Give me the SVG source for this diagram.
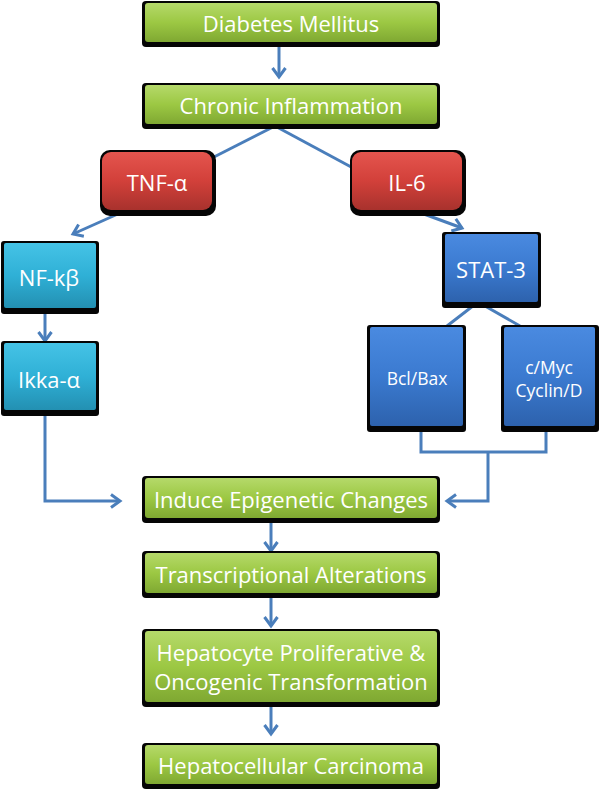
<svg xmlns="http://www.w3.org/2000/svg" width="600" height="791" viewBox="0 0 600 791">
<defs>
<linearGradient id="gGreen" x1="0" y1="0" x2="0" y2="1">
<stop offset="0" stop-color="#b5d96a"/><stop offset="0.5" stop-color="#9cc843"/><stop offset="1" stop-color="#7fa832"/>
</linearGradient>
<linearGradient id="gRed" x1="0" y1="0" x2="0" y2="1">
<stop offset="0" stop-color="#e4554e"/><stop offset="0.5" stop-color="#d2403a"/><stop offset="1" stop-color="#a8322d"/>
</linearGradient>
<linearGradient id="gBlue" x1="0" y1="0" x2="0" y2="1">
<stop offset="0" stop-color="#4a8ae0"/><stop offset="0.5" stop-color="#3b7ad0"/><stop offset="1" stop-color="#2d62ad"/>
</linearGradient>
<linearGradient id="gCyan" x1="0" y1="0" x2="0" y2="1">
<stop offset="0" stop-color="#45c3e6"/><stop offset="0.5" stop-color="#2fb0d6"/><stop offset="1" stop-color="#2390b2"/>
</linearGradient>
<marker id="arr" markerWidth="16" markerHeight="16" viewBox="0 0 16 16" refX="13" refY="8" orient="auto" markerUnits="userSpaceOnUse">
<path d="M4,1.5 L13,8 L4,14.5" fill="none" stroke="#4a7ebb" stroke-width="3"/>
</marker>
<style>
.sh{fill:#050505}
.g{fill:url(#gGreen)}
.r{fill:url(#gRed)}
.b{fill:url(#gBlue)}
.c{fill:url(#gCyan)}
.t{font-family:"Open Sans","Liberation Sans",sans-serif;fill:#ffffff;text-anchor:middle;dominant-baseline:central}
.l{fill:none;stroke:#4a7ebb;stroke-width:3}
</style>
</defs>

<g id="connectors">
<line class="l" x1="279" y1="46" x2="279" y2="77" marker-end="url(#arr)"/>
<line class="l" x1="275" y1="126" x2="212" y2="158"/>
<line class="l" x1="275" y1="126" x2="353" y2="168"/>
<line class="l" x1="129" y1="209" x2="73" y2="234" marker-end="url(#arr)"/>
<line class="l" x1="45" y1="312" x2="45" y2="341" marker-end="url(#arr)"/>
<polyline class="l" points="45,412 45,501 120,501" marker-end="url(#arr)"/>
<line class="l" x1="413" y1="210" x2="462" y2="228" marker-end="url(#arr)"/>
<polyline class="l" points="447,326 478,302 520,326"/>
<polyline class="l" points="421,428 421,452 546,452 546,428"/>
<polyline class="l" points="488,452 488,501 447,501" marker-end="url(#arr)"/>
<line class="l" x1="271" y1="521" x2="271" y2="551" marker-end="url(#arr)"/>
<line class="l" x1="271" y1="596" x2="271" y2="626" marker-end="url(#arr)"/>
<line class="l" x1="271" y1="705" x2="271" y2="734" marker-end="url(#arr)"/>
</g>

<g id="dm">
<rect class="sh" x="142" y="1" width="298" height="46" rx="4"/>
<rect class="g" x="145" y="3" width="292" height="39" rx="3"/>
<text class="t" x="291" y="23" font-size="22">Diabetes Mellitus</text>
</g>
<g id="ci">
<rect class="sh" x="142" y="83" width="298" height="46" rx="4"/>
<rect class="g" x="145" y="85" width="292" height="39" rx="3"/>
<text class="t" x="291" y="105" font-size="22">Chronic Inflammation</text>
</g>
<g id="tnf">
<rect class="sh" x="100" y="150" width="116" height="66" rx="10"/>
<rect class="r" x="102" y="152" width="110" height="58" rx="9"/>
<text class="t" x="157" y="182" font-size="22">TNF-α</text>
</g>
<g id="il6">
<rect class="sh" x="350" y="150" width="116" height="66" rx="10"/>
<rect class="r" x="352" y="152" width="110" height="58" rx="9"/>
<text class="t" x="407" y="182" font-size="22">IL-6</text>
</g>
<g id="nfkb">
<rect class="sh" x="1" y="241" width="98" height="73" rx="3"/>
<rect class="c" x="4" y="243" width="92" height="65" rx="2"/>
<text class="t" x="49" y="277" font-size="22">NF-kβ</text>
</g>
<g id="ikka">
<rect class="sh" x="1" y="341" width="98" height="75" rx="3"/>
<rect class="c" x="4" y="343" width="92" height="67" rx="2"/>
<text class="t" x="49" y="379" font-size="22">Ikka-α</text>
</g>
<g id="stat3">
<rect class="sh" x="442" y="232" width="99" height="76" rx="3"/>
<rect class="b" x="445" y="234" width="93" height="68" rx="2"/>
<text class="t" x="491" y="269" font-size="22">STAT-3</text>
</g>
<g id="bcl">
<rect class="sh" x="367" y="325" width="99" height="107" rx="3"/>
<rect class="b" x="370" y="327" width="93" height="99" rx="2"/>
<text class="t" x="417" y="378" font-size="17.5">Bcl/Bax</text>
</g>
<g id="cmyc">
<rect class="sh" x="501" y="325" width="98" height="107" rx="3"/>
<rect class="b" x="504" y="327" width="91" height="99" rx="2"/>
<text class="t" x="549" y="367" font-size="17.5">c/Myc</text>
<text class="t" x="549" y="390" font-size="17.5">Cyclin/D</text>
</g>
<g id="iec">
<rect class="sh" x="142" y="476" width="298" height="47" rx="4"/>
<rect class="g" x="145" y="478" width="292" height="40" rx="3"/>
<text class="t" x="291" y="499" font-size="22">Induce Epigenetic Changes</text>
</g>
<g id="ta">
<rect class="sh" x="142" y="551" width="298" height="47" rx="4"/>
<rect class="g" x="145" y="553" width="292" height="40" rx="3"/>
<text class="t" x="291" y="574" font-size="22">Transcriptional Alterations</text>
</g>
<g id="hp">
<rect class="sh" x="142" y="629" width="298" height="78" rx="4"/>
<rect class="g" x="145" y="631" width="292" height="71" rx="3"/>
<text class="t" x="291" y="652" font-size="22">Hepatocyte Proliferative &amp;</text>
<text class="t" x="291" y="681" font-size="22">Oncogenic Transformation</text>
</g>
<g id="hc">
<rect class="sh" x="142" y="743" width="298" height="46" rx="4"/>
<rect class="g" x="145" y="745" width="292" height="39" rx="3"/>
<text class="t" x="291" y="765" font-size="22">Hepatocellular Carcinoma</text>
</g>
</svg>
